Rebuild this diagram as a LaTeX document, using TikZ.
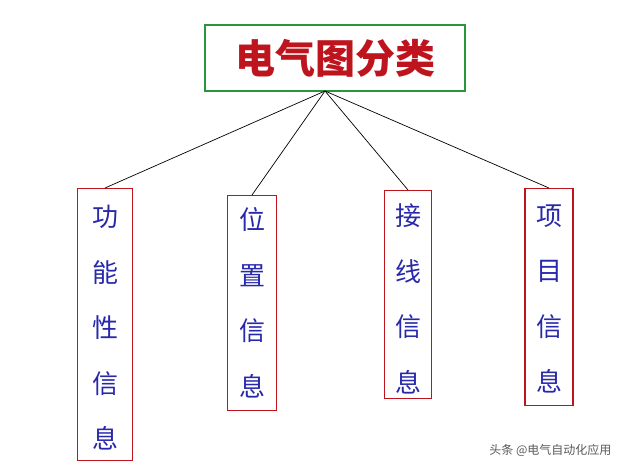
\documentclass[tikz,border=0pt]{standalone}
\usepackage{fontspec}
\newfontfamily\cjk{Noto Sans CJK SC}
\definecolor{tgreen}{RGB}{40,150,60}
\definecolor{tred}{RGB}{190,20,30}
\definecolor{tblue}{RGB}{40,40,170}
\tikzset{
  leaf/.style={draw=tred,line width=1.2pt,anchor=north,inner sep=0pt},
  ltext/.style={text=tblue,font=\cjk\fontsize{26}{55.5}\selectfont,align=center,inner sep=0pt},
  link/.style={black,line width=0.7pt}
}
\begin{document}
\begin{tikzpicture}[x=1pt,y=-1pt]
\useasboundingbox (0,0) rectangle (624,471);
\node[draw=tgreen,line width=1.5pt,minimum width=260pt,minimum height=66pt,text=tred,font=\cjk\bfseries\fontsize{40}{44}\selectfont] (top) at (335,58) {电气图分类};
\node[leaf,minimum width=55pt,minimum height=272pt] (a) at (105,188) {};
\node[leaf,minimum width=49pt,minimum height=215pt] (b) at (252,195) {};
\node[leaf,minimum width=47pt,minimum height=208pt] (c) at (408,190) {};
\node[leaf,minimum width=48pt,minimum height=217pt] (d) at (549,188) {};
\node[ltext] (ta) at (105,328) {功\\能\\性\\信\\息};
\node[ltext] (tb) at (252,303) {位\\置\\信\\息};
\node[ltext] (tc) at (408,299) {接\\线\\信\\息};
\node[ltext] (td) at (549,299) {项\\目\\信\\息};
\coordinate (hub) at (325,91);
\foreach \n in {a,b,c,d} \draw[link] (hub) -- (\n.north);
\node[text=gray!70!black,font=\cjk\fontsize{12}{14}\selectfont,anchor=east] (wm) at (615,450) {头条 @电气自动化应用};
\end{tikzpicture}
\end{document}
